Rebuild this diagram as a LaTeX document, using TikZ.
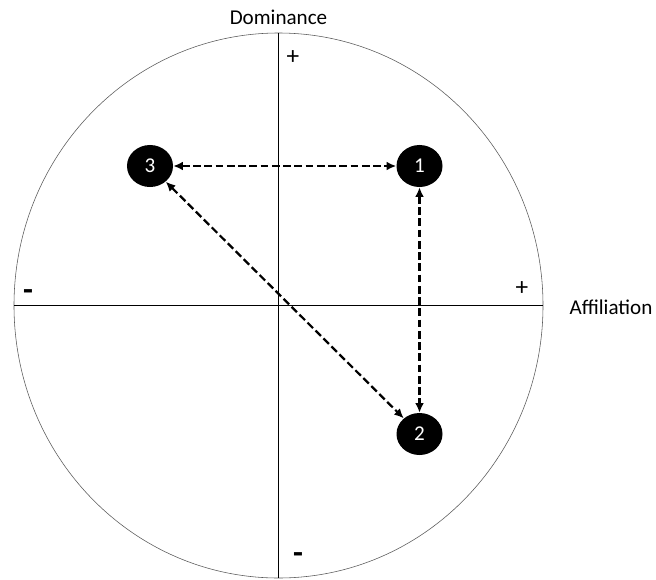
\documentclass[tikz,border=0pt]{standalone}
\usepackage{fontspec}
\setmainfont{Carlito}
\usepackage{tikz}
\usetikzlibrary{shapes.geometric,arrows.meta,positioning}

\begin{document}
\begin{tikzpicture}[x=0.025cm,y=-0.025cm,font=\fontsize{15}{18}\selectfont,
  pt/.style={ellipse,fill=black,text=white,minimum width=1.15cm,minimum height=1.05cm,inner sep=0pt},
  link/.style={{Latex[length=2.4mm,width=2.2mm]}-{Latex[length=2.4mm,width=2.2mm]},line width=1.6pt,dash pattern=on 5.5pt off 2.5pt},
  sgn/.style={font=\fontsize{18}{20}\selectfont},
  neg/.style={font=\fontsize{23}{24}\selectfont\bfseries}]
\useasboundingbox (0,0) rectangle (656,579);
% Circle and axes
\def\cx{278.5} \def\cy{305.5}
\draw[gray!70!black] (\cx,\cy) ellipse [x radius=264.5, y radius=272.5];
\draw (\cx,33) -- (\cx,578);
\draw (14,\cy) -- (543,\cy);
% Axis labels
\node (dom) at (\cx,17) {Dominance};
\node (aff) at (611,307) {Affiliation};
\node[sgn] (ptop) at (293,58) {+};
\node[sgn] (pright) at (522,289) {+};
\node[neg] (mleft) at (28,295) {-};
\node[neg] (mbot) at (298,558) {-};
% Points
\node[pt] (n3) at (150,166) {3};
\node[pt] (n1) at (419.5,166) {1};
\node[pt] (n2) at (419.5,434) {2};
% Links
\draw[link] (n3) -- (n1);
\draw[link] (n1) -- (n2);
\draw[link] (n3) -- (n2);
\end{tikzpicture}
\end{document}
